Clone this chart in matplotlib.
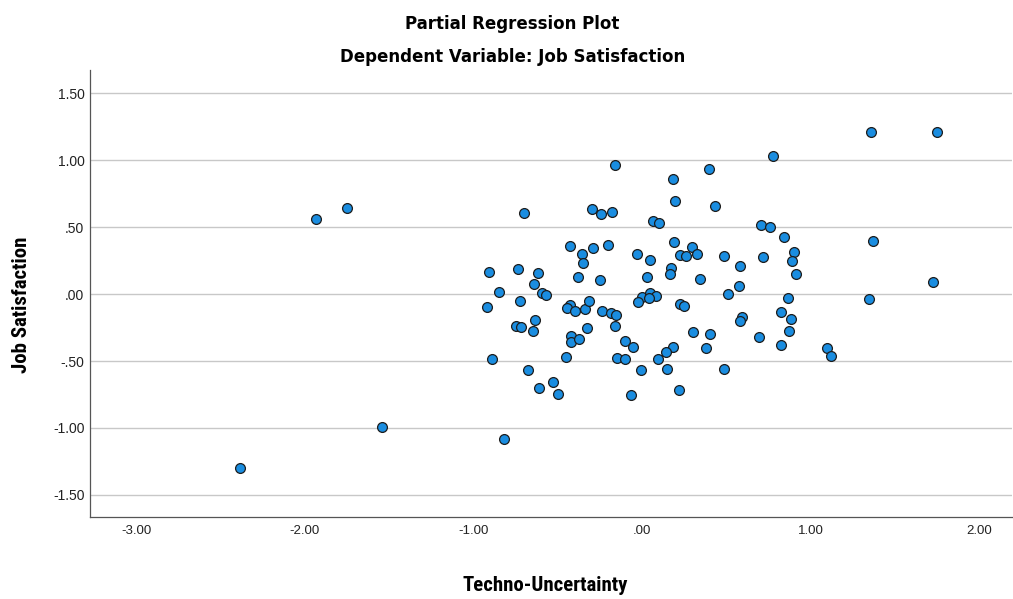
import matplotlib
matplotlib.use("Agg")
import matplotlib.pyplot as plt
from matplotlib import font_manager
from matplotlib.ticker import FuncFormatter

# partial residuals (x = Techno-Uncertainty, y = Job Satisfaction)
techno_x = [
    -2.384, -1.934, -1.750, -1.544, -0.817,
    -0.700, -0.297, -0.241, -0.178, -0.425, -0.356, -0.289, -0.204, -0.350,
    -0.906, -0.734, -0.619, -0.381, -0.247,
    -0.642, -0.850, -0.591, -0.571, -0.726, -0.919, -0.429, -0.445, -0.397,
    -0.338, -0.316, -0.237, -0.186, -0.635, -0.747, -0.720, -0.648, -0.328,
    -0.423, -0.423, -0.376, -0.892, -0.451, -0.674, -0.526, -0.611, -0.498,
    0.775, -0.160, 0.399, 0.182, 0.198, 0.433, 0.063, 0.103, 0.706, 0.759,
    -0.032, 0.049, 0.190, 0.297, 0.223, 0.259, 0.326, 0.488, 0.716, 0.583,
    0.170, 0.166, 0.028, 0.344,
    0.575, 0.508, -0.002, 0.049, 0.081, 0.042, -0.024, 0.225, 0.249, -0.156,
    -0.160, 0.593, 0.579, 0.302, 0.405, 0.696, -0.099, -0.055, 0.380, 0.186,
    0.144, -0.146, -0.103, 0.095, -0.006, 0.148, 0.485, 0.218, -0.063,
    0.842, 1.370, 0.900, 0.891, 0.913, 1.724, 0.866, 1.346, 0.826, 0.884,
    0.872, 0.826, 1.097, 1.119,
    1.360, 1.750,
]
jobsat_y = [
    -1.296, 0.557, 0.640, -0.993, -1.085,
    0.602, 0.632, 0.597, 0.612, 0.356, 0.299, 0.343, 0.363, 0.234,
    0.162, 0.184, 0.159, 0.129, 0.104,
    0.075, 0.017, 0.007, -0.007, -0.050, -0.100, -0.084, -0.104, -0.129,
    -0.109, -0.052, -0.129, -0.144, -0.191, -0.236, -0.244, -0.279, -0.256,
    -0.313, -0.356, -0.338, -0.485, -0.470, -0.565, -0.654, -0.704, -0.746,
    1.032, 0.963, 0.935, 0.858, 0.696, 0.659, 0.545, 0.532, 0.517, 0.498,
    0.301, 0.256, 0.388, 0.348, 0.289, 0.284, 0.296, 0.281, 0.274, 0.207,
    0.196, 0.152, 0.127, 0.110,
    0.062, 0.000, -0.020, 0.007, -0.015, -0.032, -0.057, -0.077, -0.090, -0.157,
    -0.239, -0.169, -0.204, -0.281, -0.299, -0.323, -0.351, -0.393, -0.405, -0.398,
    -0.433, -0.475, -0.483, -0.485, -0.565, -0.562, -0.562, -0.716, -0.756,
    0.428, 0.393, 0.311, 0.249, 0.147, 0.087, -0.030, -0.040, -0.132, -0.187,
    -0.276, -0.381, -0.401, -0.460,
    1.209, 1.209,
]
x_ticks = [-3.0, -2.0, -1.0, 0.0, 1.0, 2.0]
y_ticks = [-1.5, -1.0, -0.5, 0.0, 0.5, 1.0, 1.5]


def pick_font(names):
    # first family that is really installed
    for name in names:
        try:
            font_manager.findfont(font_manager.FontProperties(family=name),
                                  fallback_to_default=False)
            return name
        except ValueError:
            continue
    return 'DejaVu Sans'


NARROW = pick_font(['DejaVu Sans Condensed', 'Liberation Sans Narrow',
                    'Roboto Condensed', 'Liberation Sans'])
condensed = NARROW != 'Liberation Sans'
plt.rcParams['font.family'] = ['Liberation Sans', 'DejaVu Sans']


def spss_fmt(v, pos=None):
    # SPSS drops the leading zero: .50, -.50, .00
    s = f"{v:.2f}"
    if s.startswith("0."):
        s = s[1:]
    elif s.startswith("-0."):
        s = "-" + s[2:]
    return s


fig = plt.figure(figsize=(10.13, 5.99), dpi=100)
ax = fig.add_axes([0.0888, 0.137, 0.9102, 0.746])

ax.scatter(techno_x, jobsat_y, s=50, color='#1a8de0', edgecolor='#1c1c1c',
           linewidth=0.9, zorder=3)

ax.set_xlim(-3.274, 2.195)
ax.set_ylim(-1.664, 1.672)
ax.set_xticks(x_ticks)
ax.set_yticks(y_ticks)
ax.xaxis.set_major_formatter(FuncFormatter(spss_fmt))
ax.yaxis.set_major_formatter(FuncFormatter(spss_fmt))
ax.tick_params(axis='both', length=0, labelsize=9.5, colors='#222222')
ax.tick_params(axis='y', labelsize=10, pad=4)
ax.tick_params(axis='x', pad=6)

ax.grid(axis='y', color='#c8c8c8', linewidth=1.0, zorder=0)
ax.set_axisbelow(True)
for side in ['top', 'right']:
    ax.spines[side].set_visible(False)
for side in ['left', 'bottom']:
    ax.spines[side].set_color('#555555')
    ax.spines[side].set_linewidth(0.9)

label_size = 15 if condensed else 12.5

fig.text(0.0217, 0.491, 'Job Satisfaction', family=NARROW, fontsize=label_size,
         fontweight='bold', rotation=90, ha='center', va='center')
fig.text(0.538, 0.023, 'Techno-Uncertainty', family=NARROW,
         fontsize=label_size, fontweight='bold', ha='center', va='center')

fig.text(0.506, 0.96, 'Partial Regression Plot', family='DejaVu Sans',
         fontsize=12, fontweight='bold', ha='center', va='center')
fig.text(0.506, 0.905, 'Dependent Variable: Job Satisfaction',
         family='DejaVu Sans', fontsize=12, fontweight='bold',
         ha='center', va='center')

fig.savefig('out.png', dpi=100)
